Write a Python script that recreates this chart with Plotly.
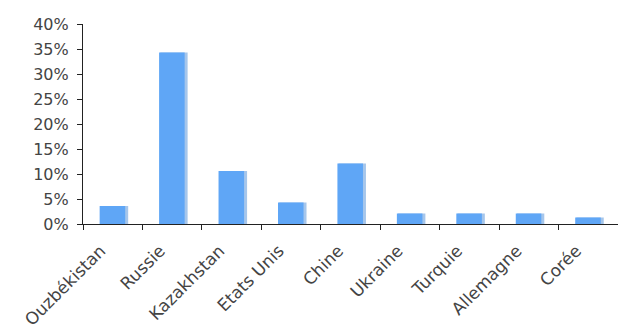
import plotly.graph_objects as go

# Share by country
countries = ["Ouzbékistan", "Russie", "Kazakhstan", "Etats Unis", "Chine",
             "Ukraine", "Turquie", "Allemagne", "Corée"]
shares = [0.036, 0.343, 0.106, 0.043, 0.121, 0.021, 0.021, 0.021, 0.013]
y_ticks = [0, 0.05, 0.10, 0.15, 0.20, 0.25, 0.30, 0.35, 0.40]

font_family = "DejaVu Sans, Verdana, sans-serif"

fig = go.Figure()
# soft shadow on the right of each bar
fig.add_trace(go.Bar(
    x=countries, y=shares, width=0.46, offset=-0.2,
    marker=dict(color="#4f8fd8", line=dict(width=0)),
    opacity=0.5, hoverinfo="skip", showlegend=False,
))
fig.add_trace(go.Bar(
    x=countries, y=shares, width=0.43, offset=-0.22,
    marker=dict(color="#5fa6f6", line=dict(width=0)),
    showlegend=False,
))

fig.update_layout(
    width=618, height=336,
    margin=dict(l=83, r=0, t=24, b=112),
    paper_bgcolor="white", plot_bgcolor="white",
    barmode="overlay",
    font=dict(family=font_family, size=15, color="#444444"),
)
fig.update_xaxes(
    type="category", automargin=False,
    showline=True, linecolor="#222222", linewidth=1.2,
    ticks="outside", tickson="boundaries", ticklen=5, tickcolor="#222222",
    tickangle=-45, showgrid=False,
    tickfont=dict(size=17, color="#444444"),
    ticklabelstandoff=9, ticklabelshift=-12,
)
fig.update_yaxes(
    range=[0, 0.4], tickvals=y_ticks, tickformat=".0%", automargin=False,
    showline=True, linecolor="#222222", linewidth=1.2,
    ticks="outside", ticklen=5, tickcolor="#222222",
    showgrid=False, zeroline=False,
    tickfont=dict(size=16, color="#444444"),
    ticklabelstandoff=5,
)

fig.write_html("out.html")
